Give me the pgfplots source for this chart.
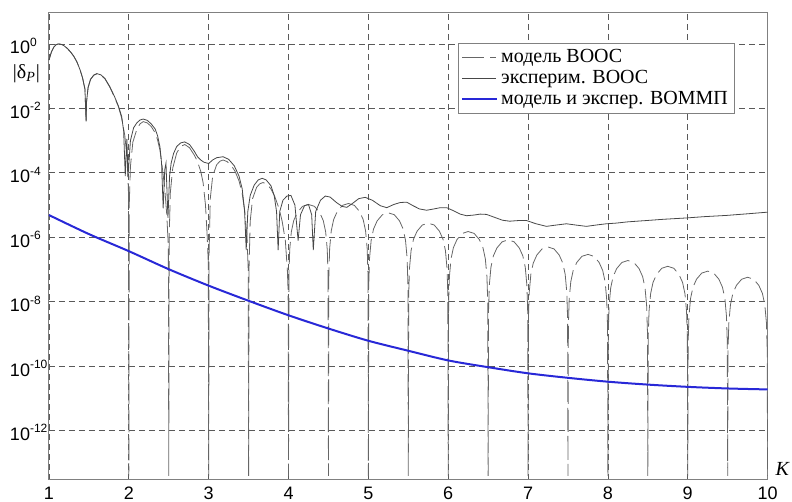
\documentclass[border=0pt]{standalone}
\usepackage{pgfplots}
\pgfplotsset{compat=1.18}
\usepackage{fontspec}
\setmainfont{Liberation Serif}
\newfontfamily\arial{Liberation Sans}
\newcommand\ytl[1]{10\textsuperscript{#1}}
\definecolor{bluel}{RGB}{40,40,215}
\begin{document}
\begin{tikzpicture}
\begin{axis}[
  scale only axis, width=359.3pt, height=233.5pt,
  xmin=1, xmax=10, ymin=-13.53, ymax=0.96,
  /pgf/number format/assume math mode=true,
  xtick={1,...,10}, ytick={-12,-10,-8,-6,-4,-2,0},
  yticklabels={\ytl{-12},\ytl{-10},\ytl{-8},\ytl{-6},\ytl{-4},\ytl{-2},\ytl{0}},
  xticklabel style={font=\arial\fontsize{9}{10}\selectfont},
  yticklabel style={font=\arial\fontsize{9}{10}\selectfont, text width=18.5pt, align=left, inner sep=0pt, anchor=east, xshift=-0.8pt, yshift=-1pt},
  major tick length=0pt,
  grid=major,
  major grid style={black!65, line width=0.4pt, dash pattern=on 3pt off 2pt},
  axis line style={black!50, line width=0.5pt},
  clip=false,
  legend style={at={(0.5695,0.936)}, anchor=north west, draw=black!50, fill=white,
    font=\fontsize{10}{11}\selectfont, inner sep=1.2pt, row sep=-1.8pt, cells={anchor=west}},
]
% model VOOS
\addplot[black!60, line width=0.4pt, dash pattern=on 11pt off 3pt] coordinates {
(1.00,-0.50)(1.03,-0.25)(1.06,-0.10)(1.09,-0.02)(1.12,0)(1.15,-0.01)(1.19,-0.06)(1.23,-0.14)(1.27,-0.25)(1.31,-0.38)(1.35,-0.56)(1.39,-0.81)(1.42,-1.05)(1.45,-1.4)(1.465,-2.46)(1.47,-1.8)(1.49,-1.35)(1.52,-1.1)(1.56,-0.97)(1.60,-0.93)(1.65,-0.97)(1.70,-1.08)(1.76,-1.33)(1.82,-1.65)(1.87,-1.95)(1.91,-2.3)(1.95,-2.85)(1.98,-3.6)(1.995,-4.6)(2.0,-13.4)
(2.005,-5.0)(2.02,-3.8)(2.05,-3.05)(2.10,-2.65)(2.14,-2.48)(2.18,-2.41)(2.23,-2.45)(2.28,-2.56)(2.33,-2.76)(2.36,-2.98)(2.39,-3.3)(2.42,-3.85)(2.45,-4.5)(2.475,-5.3)(2.495,-6.3)(2.5,-13.4)
(2.505,-6.0)(2.52,-4.6)(2.55,-3.85)(2.60,-3.38)(2.65,-3.18)(2.70,-3.12)(2.76,-3.22)(2.82,-3.45)(2.86,-3.65)(2.90,-3.95)(2.93,-4.3)(2.96,-5.0)(2.98,-5.9)(2.995,-6.8)(3.0,-13.4)
(3.005,-6.5)(3.02,-4.8)(3.05,-4.1)(3.10,-3.75)(3.14,-3.64)(3.18,-3.6)(3.23,-3.65)(3.28,-3.76)(3.33,-3.95)(3.38,-4.25)(3.42,-4.65)(3.45,-5.15)(3.48,-6.0)(3.495,-7.0)(3.5,-13.4)
(3.505,-7.0)(3.52,-5.5)(3.55,-4.8)(3.60,-4.45)(3.64,-4.34)(3.68,-4.3)(3.73,-4.35)(3.78,-4.5)(3.83,-4.75)(3.88,-5.1)(3.92,-5.5)(3.96,-6.1)(3.985,-7.0)(3.995,-7.7)(4.0,-13.4)
(4.005,-7.18)(4.015,-6.38)(4.035,-5.83)(4.065,-5.48)(4.11,-5.23)(4.175,-5.04)(4.25,-4.98)(4.325,-5.04)(4.39,-5.23)(4.435,-5.48)(4.465,-5.83)(4.485,-6.38)(4.495,-7.18)(4.5,-13.4)
(4.505,-7.15)(4.515,-6.35)(4.535,-5.80)(4.565,-5.45)(4.61,-5.20)(4.675,-5.01)(4.75,-4.95)(4.825,-5.01)(4.89,-5.20)(4.935,-5.45)(4.965,-5.80)(4.985,-6.35)(4.995,-7.15)(5.0,-13.4)
(5.005,-7.44)(5.015,-6.64)(5.035,-6.09)(5.065,-5.74)(5.11,-5.49)(5.175,-5.30)(5.25,-5.24)(5.325,-5.30)(5.39,-5.49)(5.435,-5.74)(5.465,-6.09)(5.485,-6.64)(5.495,-7.44)(5.5,-13.4)
(5.505,-7.76)(5.515,-6.96)(5.535,-6.41)(5.565,-6.06)(5.61,-5.81)(5.675,-5.62)(5.75,-5.56)(5.825,-5.62)(5.89,-5.81)(5.935,-6.06)(5.965,-6.41)(5.985,-6.96)(5.995,-7.76)(6.0,-13.4)
(6.005,-8.02)(6.015,-7.22)(6.035,-6.67)(6.065,-6.32)(6.11,-6.07)(6.175,-5.88)(6.25,-5.82)(6.325,-5.88)(6.39,-6.07)(6.435,-6.32)(6.465,-6.67)(6.485,-7.22)(6.495,-8.02)(6.5,-13.4)
(6.505,-8.28)(6.515,-7.48)(6.535,-6.93)(6.565,-6.58)(6.61,-6.33)(6.675,-6.14)(6.75,-6.08)(6.825,-6.14)(6.89,-6.33)(6.935,-6.58)(6.965,-6.93)(6.985,-7.48)(6.995,-8.28)(7.0,-13.4)
(7.005,-8.50)(7.015,-7.70)(7.035,-7.15)(7.065,-6.80)(7.11,-6.55)(7.175,-6.36)(7.25,-6.30)(7.325,-6.36)(7.39,-6.55)(7.435,-6.80)(7.465,-7.15)(7.485,-7.70)(7.495,-8.50)(7.5,-13.4)
(7.505,-8.73)(7.515,-7.93)(7.535,-7.38)(7.565,-7.03)(7.61,-6.78)(7.675,-6.59)(7.75,-6.53)(7.825,-6.59)(7.89,-6.78)(7.935,-7.03)(7.965,-7.38)(7.985,-7.93)(7.995,-8.73)(8.0,-13.4)
(8.005,-8.92)(8.015,-8.12)(8.035,-7.57)(8.065,-7.22)(8.11,-6.97)(8.175,-6.78)(8.25,-6.72)(8.325,-6.78)(8.39,-6.97)(8.435,-7.22)(8.465,-7.57)(8.485,-8.12)(8.495,-8.92)(8.5,-13.4)
(8.505,-9.10)(8.515,-8.30)(8.535,-7.75)(8.565,-7.40)(8.61,-7.15)(8.675,-6.96)(8.75,-6.90)(8.825,-6.96)(8.89,-7.15)(8.935,-7.40)(8.965,-7.75)(8.985,-8.30)(8.995,-9.10)(9.0,-13.4)
(9.005,-9.25)(9.015,-8.45)(9.035,-7.90)(9.065,-7.55)(9.11,-7.30)(9.175,-7.11)(9.25,-7.05)(9.325,-7.11)(9.39,-7.30)(9.435,-7.55)(9.465,-7.90)(9.485,-8.45)(9.495,-9.25)(9.5,-13.4)
(9.505,-9.44)(9.515,-8.64)(9.535,-8.09)(9.565,-7.74)(9.61,-7.49)(9.675,-7.30)(9.75,-7.24)(9.825,-7.30)(9.89,-7.49)(9.935,-7.74)(9.965,-8.09)(9.985,-8.64)(9.995,-9.44)(10.0,-13.4)
};
\addlegendentry{модель ВООС}
% experiment VOOS
\addplot[black!72, line width=0.4pt] coordinates {
(1.00,-0.50)(1.03,-0.25)(1.06,-0.10)(1.09,-0.02)(1.12,0)(1.15,-0.01)(1.19,-0.06)(1.23,-0.14)(1.27,-0.25)(1.31,-0.38)(1.35,-0.56)(1.39,-0.81)(1.42,-1.05)(1.45,-1.4)(1.465,-2.4)(1.47,-1.8)(1.49,-1.35)(1.52,-1.1)(1.56,-0.97)(1.60,-0.92)(1.65,-0.96)(1.70,-1.07)(1.76,-1.32)(1.82,-1.63)(1.87,-1.93)(1.91,-2.25)(1.935,-2.7)(1.955,-4.1)(1.975,-2.95)(1.99,-4.1)(2.02,-3.0)(2.06,-2.6)(2.10,-2.45)(2.14,-2.36)(2.18,-2.33)(2.23,-2.37)(2.28,-2.48)(2.33,-2.64)(2.36,-2.85)(2.39,-3.2)(2.41,-3.7)(2.43,-5.1)(2.45,-3.9)(2.465,-3.7)(2.49,-5.4)(2.51,-4.1)(2.53,-3.7)(2.56,-3.4)(2.60,-3.18)(2.65,-3.07)(2.70,-3.04)(2.76,-3.12)(2.82,-3.33)(2.86,-3.5)(2.90,-3.6)(2.94,-3.67)(3.0,-3.71)(3.05,-3.6)(3.10,-3.53)(3.18,-3.50)(3.25,-3.58)(3.32,-3.78)(3.38,-4.1)(3.42,-4.5)(3.45,-5.2)(3.47,-6.4)(3.49,-5.2)(3.52,-4.7)(3.57,-4.38)(3.62,-4.22)(3.67,-4.17)(3.72,-4.22)(3.78,-4.4)(3.82,-4.7)(3.85,-5.2)(3.87,-6.4)(3.89,-5.2)(3.93,-4.85)(3.98,-4.72)(4.03,-4.7)(4.08,-5.0)(4.12,-6.1)(4.15,-5.3)(4.20,-5.02)(4.25,-4.98)(4.29,-5.3)(4.31,-6.4)(4.34,-5.2)(4.40,-4.85)(4.46,-4.72)(4.52,-4.75)(4.60,-4.92)(4.67,-5.04)(4.73,-5.07)(4.80,-4.95)(4.88,-4.8)(4.96,-4.76)(5.05,-4.85)(5.15,-5.02)(5.23,-5.08)(5.32,-4.98)(5.40,-4.92)(5.48,-4.91)(5.56,-5.02)(5.64,-5.12)(5.73,-5.16)(5.82,-5.12)(5.90,-5.08)(5.98,-5.08)(6.07,-5.18)(6.15,-5.28)(6.23,-5.33)(6.32,-5.31)(6.40,-5.28)(6.48,-5.29)(6.58,-5.38)(6.68,-5.47)(6.77,-5.5)(6.88,-5.48)(6.98,-5.48)(7.1,-5.58)(7.23,-5.66)(7.35,-5.62)(7.48,-5.58)(7.6,-5.62)(7.73,-5.66)(7.85,-5.62)(7.98,-5.58)(8.1,-5.56)(8.25,-5.52)(8.48,-5.48)(8.7,-5.44)(8.98,-5.40)(9.2,-5.36)(9.49,-5.32)(9.75,-5.27)(10.0,-5.22)
};
\addlegendentry{эксперим. ВООС}
% model & experiment VOMMP
\addplot[bluel, line width=1pt, smooth] coordinates {
(1,-5.31)(1.5,-5.9)(2,-6.43)(2.5,-6.99)(3,-7.5)(3.5,-7.97)(4,-8.42)(4.5,-8.83)(5,-9.21)(5.5,-9.52)(6,-9.82)(6.5,-10.03)(7,-10.22)(7.5,-10.36)(8,-10.48)(8.5,-10.57)(9,-10.64)(9.5,-10.69)(10,-10.72)
};
\addlegendentry{модель и экспер. ВОММП}
\node[font=\fontsize{10}{11}\selectfont] at (axis cs:0.718,-0.92) {|δ\textsubscript{\textit{P}}|};
\node[font=\fontsize{10}{11}\selectfont] at (axis cs:10.19,-13.2) {\textit{K}};
\end{axis}
\pgfresetboundingbox
\path (current axis.south west) ++(-24.5pt,-11pt) rectangle ++(396pt,251pt);
\end{tikzpicture}
\end{document}
